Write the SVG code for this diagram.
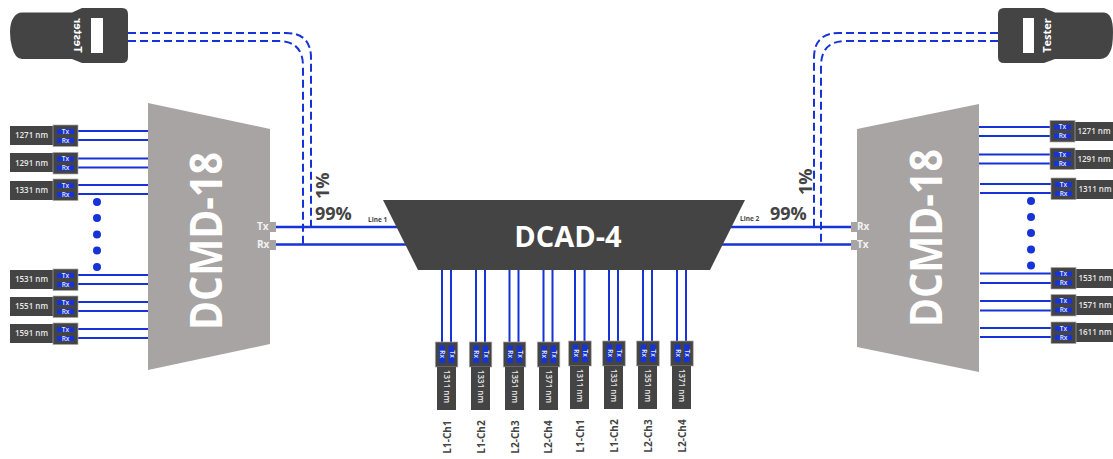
<svg xmlns="http://www.w3.org/2000/svg" xmlns:xlink="http://www.w3.org/1999/xlink" width="1113" height="459" viewBox="0 0 1113 459">
<style>
text{font-family:"Open Sans","Liberation Sans",sans-serif;font-weight:700}
.dark{fill:#444444}
.gray{fill:#a8a4a3}
.blue{fill:#1533d6}
.ln{stroke:#1533d6;stroke-width:2;fill:none}
.main{stroke:#1533d6;stroke-width:2.4;fill:none}
.dash{stroke:#1533d6;stroke-width:2;fill:none;stroke-dasharray:8 4}
.dot{fill:#1533d6}
.mod{fill:#444444;stroke:#a8a8a8;stroke-width:.7}
.w{fill:#fff}
.lab{fill:#e8e8e8;font-size:8px;font-weight:600;text-anchor:middle}
.tag{fill:#e8e8e8;font-size:6.5px;font-weight:600;text-anchor:middle}
.big{fill:#fff;font-size:44px;text-anchor:middle}
.pct{fill:#444444;font-size:18px}
.line{fill:#444444;font-size:6.5px}
.port{fill:#f2f2f2;font-size:10px}
.ch{fill:#444444;font-size:10px}
</style>
<defs>
<g id="hm"><rect class="mod" x="0" y="0" width="25" height="21.5"/><rect class="blue" x="4" y="4" width="17" height="5"/><rect class="blue" x="4" y="13" width="17" height="5"/><text class="tag" x="12.5" y="8.9">Tx</text><text class="tag" x="12.5" y="17.9">Rx</text></g>
<g id="vm"><rect class="mod" x="0" y="0" width="22.5" height="25"/><rect class="blue" x="4" y="3.5" width="5.6" height="17.5"/><rect class="blue" x="13.3" y="3.5" width="5.6" height="17.5"/><text class="tag" transform="translate(4.8,12.2) rotate(90)">Rx</text><text class="tag" transform="translate(14.2,12.2) rotate(90)">Tx</text></g>
</defs>

<g id="connectors">
<path class="dash" d="M128 33H286Q311 33 311 58V227"/>
<path class="dash" d="M128 41H278Q303 41 303 66V246"/>
<path class="dash" d="M998 33H839Q814 33 814 58V226"/>
<path class="dash" d="M998 41H846Q821 41 821 66V244"/>
<path class="main" d="M276 227H402M276 244.5H410M726 227H852M720 244.5H852"/>
<path class="ln" d="M78 131H148M78 140H148M78 158.500H148M78 167.500H148M78 185H148M78 194H148M78 275H148M78 284H148M78 302H148M78 311H148M78 329H148M78 338H148"/>
<path class="ln" d="M979 127H1050M979 136H1050M979 154.500H1050M979 163.500H1050M980 184H1051M980 193H1051M980 273.500H1051M980 283H1051M980 301H1051M980 310.500H1051M980 328H1051M980 337H1051"/>
<path class="ln" d="M442 270V342M451 270V342M476 270V342M485 270V342M509.500 270V342M518.500 270V342M543.500 270V342M552.500 270V342M575 270V342M584.500 270V342M609 270V342M618 270V342M643 270V342M652 270V342M677 270V342M686 270V342"/>
</g>

<g id="tester-left">
<path class="dark" d="M22 12.500H72L82 8H122Q128 8 128 14V57Q128 63 122 63H82L72 59H22Q15 59 12 47Q10 40 10 32Q10 22 14 17Q17 12.500 22 12.500Z"/>
<rect class="w" x="91" y="18" width="12" height="35"/>
<text class="w" font-size="11" text-anchor="middle" transform="translate(74,35.500) scale(-1,1) rotate(-90)">Tester</text>
</g>
<g id="tester-right">
<path class="dark" d="M1004 8H1044L1055 12.500H1104Q1113 13 1113 32Q1113 47 1110 52Q1107 59 1100 59H1055L1044 63H1004Q998 63 998 57V14Q998 8 1004 8Z"/>
<rect class="w" x="1023" y="18" width="11" height="35"/>
<text class="w" font-size="11" text-anchor="middle" transform="translate(1051,35.500) rotate(-90)">Tester</text>
</g>

<g id="dcmd-left">
<polygon class="gray" points="148,103 270,129 270,344 148,370"/>
<text class="big" textLength="178" lengthAdjust="spacingAndGlyphs" transform="translate(221.500,241) rotate(-90)">DCMD-18</text>
<rect class="gray" x="270" y="222" width="6" height="10"/>
<rect class="gray" x="270" y="240" width="6" height="10"/>
<text class="port" x="257" y="230">Tx</text>
<text class="port" x="257" y="248">Rx</text>
</g>
<g id="dcmd-right">
<polygon class="gray" points="857,129 979,104 979,372 857,347"/>
<text class="big" textLength="178" lengthAdjust="spacingAndGlyphs" transform="translate(942,238) rotate(-90)">DCMD-18</text>
<rect class="gray" x="851" y="222" width="6" height="10"/>
<rect class="gray" x="851" y="240" width="6" height="10"/>
<text class="port" x="857" y="230">Rx</text>
<text class="port" x="857" y="248">Tx</text>
</g>
<g id="dcad">
<polygon class="dark" points="383,200 745,200 710,270 418,270"/>
<text class="w" font-size="29" text-anchor="middle" x="568" y="247">DCAD-4</text>
</g>

<g id="split-left">
<text class="pct" transform="translate(329,199) rotate(-90)">1%</text>
<text class="pct" x="315" y="220">99%</text>
<text class="line" x="368" y="222">Line 1</text>
</g>
<g id="split-right">
<text class="pct" transform="translate(812,195) rotate(-90)">1%</text>
<text class="pct" x="770" y="220">99%</text>
<text class="line" x="740" y="221">Line 2</text>
</g>

<g id="dots-left"><circle class="dot" cx="97" cy="202" r="4"/><circle class="dot" cx="97" cy="218" r="4"/><circle class="dot" cx="97" cy="234.500" r="4"/><circle class="dot" cx="97" cy="250.500" r="4"/><circle class="dot" cx="97" cy="267" r="4"/></g>
<g id="dots-right"><circle class="dot" cx="1031" cy="201" r="4"/><circle class="dot" cx="1031" cy="217" r="4"/><circle class="dot" cx="1031" cy="233" r="4"/><circle class="dot" cx="1031" cy="249.500" r="4"/><circle class="dot" cx="1031" cy="265.500" r="4"/></g>

<g id="l1"><rect class="dark" x="10" y="126" width="43" height="19"/><use href="#hm" x="53" y="125"/><text class="lab" x="31.500" y="138">1271 nm</text></g>
<g id="l2"><rect class="dark" x="10" y="153" width="43" height="19"/><use href="#hm" x="53" y="152.500"/><text class="lab" x="31.500" y="165.500">1291 nm</text></g>
<g id="l3"><rect class="dark" x="10" y="181" width="43" height="19"/><use href="#hm" x="53" y="179"/><text class="lab" x="31.500" y="193">1331 nm</text></g>
<g id="l4"><rect class="dark" x="10" y="270" width="43" height="19"/><use href="#hm" x="53" y="269"/><text class="lab" x="31.500" y="282">1531 nm</text></g>
<g id="l5"><rect class="dark" x="10" y="297" width="43" height="19"/><use href="#hm" x="53" y="296"/><text class="lab" x="31.500" y="309">1551 nm</text></g>
<g id="l6"><rect class="dark" x="10" y="324" width="43" height="19"/><use href="#hm" x="53" y="323"/><text class="lab" x="31.500" y="336">1591 nm</text></g>

<g id="r1"><rect class="dark" x="1075" y="122" width="38" height="19"/><use href="#hm" x="1050" y="120.500"/><text class="lab" x="1094" y="134">1271 nm</text></g>
<g id="r2"><rect class="dark" x="1075" y="150" width="38" height="19"/><use href="#hm" x="1050" y="148"/><text class="lab" x="1094" y="162">1291 nm</text></g>
<g id="r3"><rect class="dark" x="1076" y="180" width="37" height="19"/><use href="#hm" x="1051" y="178"/><text class="lab" x="1095" y="192">1311 nm</text></g>
<g id="r4"><rect class="dark" x="1076" y="269" width="37" height="19"/><use href="#hm" x="1051" y="267.500"/><text class="lab" x="1095" y="281">1531 nm</text></g>
<g id="r5"><rect class="dark" x="1076" y="296" width="37" height="19"/><use href="#hm" x="1051" y="294.500"/><text class="lab" x="1095" y="308">1571 nm</text></g>
<g id="r6"><rect class="dark" x="1076" y="323" width="37" height="19"/><use href="#hm" x="1051" y="322"/><text class="lab" x="1095" y="335">1611 nm</text></g>

<g id="b1"><use href="#vm" x="435.300" y="342"/><rect class="dark" x="437" y="367" width="19" height="43"/><text class="lab" transform="translate(443.500,386.500) rotate(90)">1311 nm</text><text class="ch" text-anchor="middle" transform="translate(451,437) rotate(-90)">L1-Ch1</text></g>
<g id="b2"><use href="#vm" x="469.300" y="342"/><rect class="dark" x="471" y="367" width="19" height="43"/><text class="lab" transform="translate(477.500,386.500) rotate(90)">1331 nm</text><text class="ch" text-anchor="middle" transform="translate(485,437) rotate(-90)">L1-Ch2</text></g>
<g id="b3"><use href="#vm" x="503.300" y="342"/><rect class="dark" x="505" y="367" width="19" height="43"/><text class="lab" transform="translate(511.500,386.500) rotate(90)">1351 nm</text><text class="ch" text-anchor="middle" transform="translate(519,437) rotate(-90)">L2-Ch3</text></g>
<g id="b4"><use href="#vm" x="537.300" y="342"/><rect class="dark" x="539" y="367" width="19" height="43"/><text class="lab" transform="translate(545.500,386.500) rotate(90)">1371 nm</text><text class="ch" text-anchor="middle" transform="translate(552,437) rotate(-90)">L2-Ch4</text></g>
<g id="b5"><use href="#vm" x="568.700" y="341"/><rect class="dark" x="570" y="366" width="19" height="43"/><text class="lab" transform="translate(576.500,385.500) rotate(90)">1311 nm</text><text class="ch" text-anchor="middle" transform="translate(584,436) rotate(-90)">L1-Ch1</text></g>
<g id="b6"><use href="#vm" x="602.700" y="341"/><rect class="dark" x="604" y="366" width="19" height="43"/><text class="lab" transform="translate(610.500,385.500) rotate(90)">1331 nm</text><text class="ch" text-anchor="middle" transform="translate(618,436) rotate(-90)">L1-Ch2</text></g>
<g id="b7"><use href="#vm" x="636.700" y="341"/><rect class="dark" x="638" y="366" width="19" height="43"/><text class="lab" transform="translate(644.500,385.500) rotate(90)">1351 nm</text><text class="ch" text-anchor="middle" transform="translate(652,436) rotate(-90)">L2-Ch3</text></g>
<g id="b8"><use href="#vm" x="670.700" y="341"/><rect class="dark" x="672" y="366" width="19" height="43"/><text class="lab" transform="translate(678.500,385.500) rotate(90)">1371 nm</text><text class="ch" text-anchor="middle" transform="translate(686,436) rotate(-90)">L2-Ch4</text></g>
</svg>
